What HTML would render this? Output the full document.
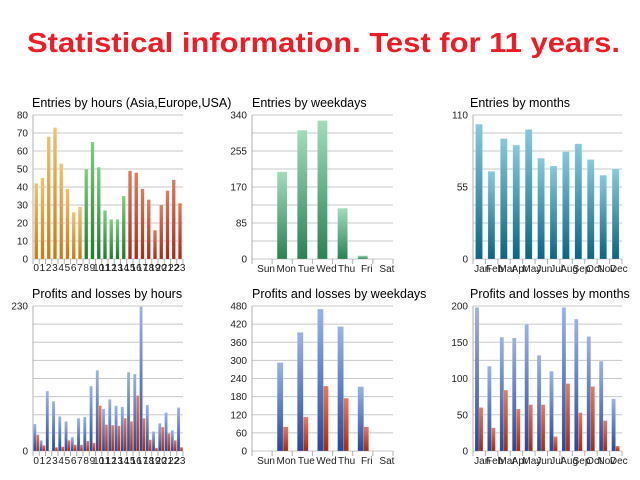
<!DOCTYPE html>
<html><head><meta charset="utf-8"><style>
html,body{margin:0;padding:0;background:#fff;width:640px;height:480px;overflow:hidden}
svg{display:block;font-family:"Liberation Sans",sans-serif}
</style></head><body>
<svg id="s" width="640" height="480" xmlns="http://www.w3.org/2000/svg">
<defs>
<linearGradient id="gO" x1="0" y1="0" x2="0" y2="1"><stop offset="0" stop-color="#f2c070"/><stop offset="1" stop-color="#c87a10"/></linearGradient>
<linearGradient id="gG" x1="0" y1="0" x2="0" y2="1"><stop offset="0" stop-color="#7fcf80"/><stop offset="1" stop-color="#1f7a2a"/></linearGradient>
<linearGradient id="gR" x1="0" y1="0" x2="0" y2="1"><stop offset="0" stop-color="#e07a60"/><stop offset="1" stop-color="#a82a14"/></linearGradient>
<linearGradient id="gW" x1="0" y1="0" x2="0" y2="1"><stop offset="0" stop-color="#a3dcbc"/><stop offset="1" stop-color="#2a8252"/></linearGradient>
<linearGradient id="gT" x1="0" y1="0" x2="0" y2="1"><stop offset="0" stop-color="#86cade"/><stop offset="1" stop-color="#0a6585"/></linearGradient>
<linearGradient id="gB" x1="0" y1="0" x2="0" y2="1"><stop offset="0" stop-color="#9ab4e8"/><stop offset="1" stop-color="#2448a0"/></linearGradient>
<linearGradient id="gL" x1="0" y1="0" x2="0" y2="1"><stop offset="0" stop-color="#e87a5c"/><stop offset="1" stop-color="#a52a10"/></linearGradient>
</defs>
<text x="27" y="52" font-size="28" font-weight="bold" fill="#ee1c25" textLength="593" lengthAdjust="spacingAndGlyphs">Statistical information. Test for 11 years.</text>
</svg>
<script>
var s=document.getElementById('s'),NS='http://www.w3.org/2000/svg';
function el(t,a,txt){var e=document.createElementNS(NS,t);for(var k in a)e.setAttribute(k,a[k]);if(txt!=null)e.textContent=txt;s.appendChild(e);return e;}
function chart(o){
 el('text',{x:o.tx,y:o.ty,'font-size':12.5,fill:'#000'},o.title);
 for(var i=1;i<=o.divs;i++){var y=o.y0-(o.y0-o.yt)*i/o.divs;el('line',{x1:o.x0,x2:o.x1,y1:y,y2:y,stroke:'#c8c8c8','stroke-width':1});}
 el('line',{x1:o.x0,x2:o.x1,y1:o.y0,y2:o.y0,stroke:'#c8c8c8'});
 el('line',{x1:o.x0,x2:o.x0,y1:o.yt,y2:o.y0+5,stroke:'#b0b0b0'});
 o.ylab.forEach(function(v){var y=o.y0-(o.y0-o.yt)*v/o.max;el('text',{x:o.x0-5,y:y+3.5,'font-size':10,'text-anchor':'end',fill:'#222'},String(v));});
 var n=o.n,w=(o.x1-o.x0)/n;
 for(var i=0;i<=n;i++){var x=o.x0+i*w;el('line',{x1:x,x2:x,y1:o.y0,y2:o.y0+5,stroke:'#b0b0b0'});}
 o.series.forEach(function(sr){sr.v.forEach(function(v,i){var h=(o.y0-o.yt)*v/o.max;var f=typeof sr.f=='function'?sr.f(i):sr.f;
  el('rect',{x:o.x0+i*w+sr.off,y:o.y0-h,width:sr.w,height:h,fill:f,stroke:'rgba(255,255,255,0.35)','stroke-width':0.5});});});
 o.cats.forEach(function(c,i){el('text',{x:o.x0+(i+0.5)*w+(o.lo||0),y:o.ly,'font-size':o.lf||10,'text-anchor':'middle',fill:'#222'},c);});
}
var hrs=[];for(var i=0;i<24;i++)hrs.push(String(i));
var days=['Sun','Mon','Tue','Wed','Thu','Fri','Sat'];
var mon=['Jan','Feb','Mar','Apr','May','Jun','Jul','Aug','Sep','Oct','Nov','Dec'];
chart({tx:32,ty:107,title:'Entries by hours (Asia,Europe,USA)',x0:33,x1:183,y0:259,yt:115,max:80,divs:8,ylab:[0,10,20,30,40,50,60,70,80],n:24,cats:hrs,ly:271,lf:10,
 series:[{v:[42,45,68,73,53,39,26,29,50,65,51,27,22,22,35,49,48,39,33,16,30,38,44,31],off:1.5,w:3.5,f:function(i){return i<8?'url(#gO)':i<15?'url(#gG)':'url(#gR)';}}]});
chart({tx:252,ty:107,title:'Entries by weekdays',x0:252,x1:393,y0:259,yt:115,max:340,divs:8,ylab:[0,85,170,255,340],n:7,cats:days,ly:272,lo:4,
 series:[{v:[0,206,304,327,120,8,0],off:5,w:10,f:'url(#gW)'}]});
chart({tx:470,ty:107,title:'Entries by months',x0:473,x1:622,y0:259,yt:115,max:110,divs:8,ylab:[0,55,110],n:12,cats:mon,ly:272,lo:3,
 series:[{v:[103,67,92,87,99,77,71,82,88,76,64,69],off:2.5,w:7,f:'url(#gT)'}]});
chart({tx:32,ty:298,title:'Profits and losses by hours',x0:33,x1:183,y0:451,yt:306,max:230,divs:8,ylab:[0,230],n:24,cats:hrs,ly:464,
 series:[{v:[43,17,95,79,55,47,22,52,54,103,128,67,82,72,70,125,122,229,73,31,44,61,33,69],off:0.3,w:3,f:'url(#gB)'},
 {v:[26,9,0,6,7,17,10,10,16,13,72,42,41,40,52,47,88,52,18,5,38,28,17,6],off:3.3,w:2.8,f:'url(#gL)'}]});
chart({tx:252,ty:298,title:'Profits and losses by weekdays',x0:252,x1:393,y0:451,yt:306,max:480,divs:8,ylab:[0,60,120,180,240,300,360,420,480],n:7,cats:days,ly:464,lo:4,
 series:[{v:[0,293,393,470,412,213,0],off:5,w:6,f:'url(#gB)'},{v:[0,80,113,215,175,80,0],off:11,w:5,f:'url(#gL)'}]});
chart({tx:470,ty:298,title:'Profits and losses by months',x0:473,x1:622,y0:451,yt:306,max:200,divs:8,ylab:[0,50,100,150,200],n:12,cats:mon,ly:464,lo:3,
 series:[{v:[198,117,157,156,175,132,110,198,182,158,124,72],off:2,w:4,f:'url(#gB)'},{v:[60,32,84,58,64,64,20,93,53,89,42,7],off:6,w:4,f:'url(#gL)'}]});
</script>
</body></html>
